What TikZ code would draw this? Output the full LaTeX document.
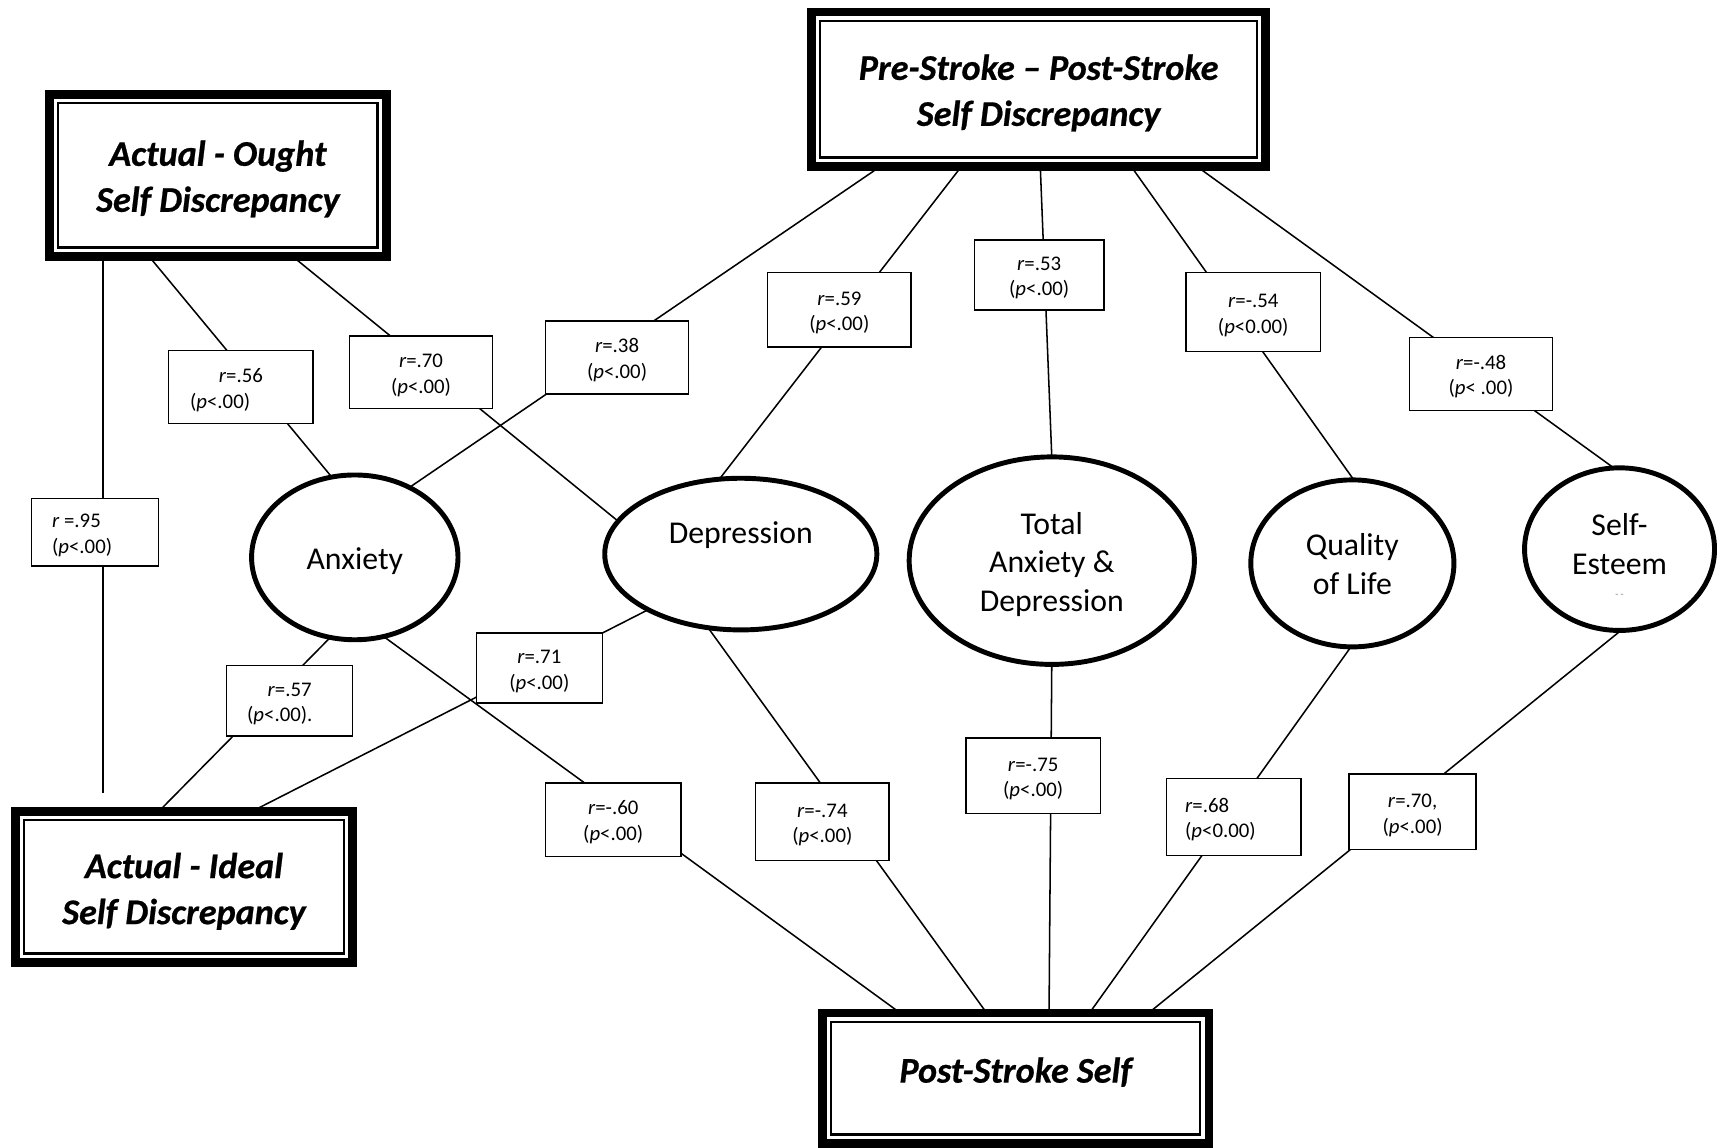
\documentclass[tikz,border=0pt]{standalone}
\usepackage{fontspec}
\setmainfont{Carlito}[BoldItalicFeatures={FakeBold=0.6}]
\usetikzlibrary{shapes.geometric,backgrounds}
\newcommand\ttlfont{\fontsize{33}{42}\selectfont\bfseries\itshape}
\newcommand\efont{\fontsize{29}{35.5}\selectfont}
\newcommand\lfont{\fontsize{19}{23.5}\selectfont}
\newcommand\up[1]{\rule{0pt}{#1}}
\tikzset{
 bigbox/.style={draw, line width=8pt, fill=white, inner sep=0pt, outer sep=0pt, align=center, font=\ttlfont},
 innerframe/.style={line width=2.2pt},
 ell/.style={ellipse, draw, line width=4.5pt, fill=white, inner sep=0pt, outer sep=0pt, align=center, font=\efont},
 lbox/.style={draw, line width=1.3pt, fill=white, inner sep=0pt, outer sep=0pt, align=center, font=\lfont},
 link/.style={line width=1.4pt},
}
\begin{document}
\begin{tikzpicture}[x=1pt,y=-1pt]
\useasboundingbox (0,0) rectangle (1568,1048);

% main boxes
\node[bigbox, minimum width=308pt, minimum height=148pt] (ao) at (199,160) {\up{30pt}Actual - Ought\\Self Discrepancy};
\node[bigbox, minimum width=415pt, minimum height=141pt] (pp) at (948.5,81.5) {\up{30pt}Pre-Stroke – Post-Stroke\\Self Discrepancy};
\node[bigbox, minimum width=308pt, minimum height=138pt] (ai) at (168,810) {\up{31pt}Actual - Ideal\\Self Discrepancy};
\node[bigbox, minimum width=353pt, minimum height=119pt,
      label={[font=\ttlfont, yshift=5.5pt]center:Post-Stroke Self}] (ps) at (927.5,984.5) {};
\foreach \n in {ao,pp,ai,ps}
  \draw[innerframe] ([shift={(8.1pt,-8.1pt)}]\n.north west) rectangle ([shift={(-8.1pt,8.1pt)}]\n.south east);

% ellipses
\node[ell, minimum width=188.5pt, minimum height=150.5pt] (anx) at (324,509) {\up{26pt}Anxiety};
\node[ell, minimum width=248.5pt, minimum height=138.5pt,
      label={[font=\efont, yshift=17pt]center:Depression}] (dep) at (676.5,506) {};
\node[ell, minimum width=260.5pt, minimum height=189.5pt] (tot) at (960.5,512) {\up{27pt}Total\\Anxiety \&\\Depression};
\node[ell, minimum width=185.5pt, minimum height=152.5pt] (qol) at (1235,514.5) {\up{22pt}Quality\\of Life};
\node[ell, minimum width=173.5pt, minimum height=148.5pt,
      label={[font=\efont, align=center, yshift=5pt]center:Self-\\Esteem},
      label={[font=\fontsize{9}{9}\selectfont, text=gray, yshift=-42.5pt]center:- -}] (se) at (1479,501.5) {};

% correlation boxes
\node[lbox, align=left, minimum width=116pt, minimum height=62pt] (l95) at (87,486) {\up{18pt}\textit{r} =.95\\(\textit{p}<.00)\hspace*{24pt}};
\node[lbox, minimum width=132pt, minimum height=67pt] (l56) at (220,353.5) {\up{18pt}\textit{r}=.56\\(\textit{p}<.00)\hspace*{38pt}};
\node[lbox, minimum width=131pt, minimum height=66pt] (l70a) at (384.5,340) {\up{18pt}\textit{r}=.70\\(\textit{p}<.00)};
\node[lbox, minimum width=131pt, minimum height=67pt] (l38) at (563.5,326.5) {\up{18pt}\textit{r}=.38\\(\textit{p}<.00)};
\node[lbox, minimum width=131pt, minimum height=68pt] (l59) at (766.5,283) {\up{18pt}\textit{r}=.59\\(\textit{p}<.00)};
\node[lbox, minimum width=118pt, minimum height=64pt] (l53) at (949,251) {\up{18pt}\textit{r}=.53\\(\textit{p}<.00)};
\node[lbox, minimum width=123pt, minimum height=72pt] (l54) at (1144.5,285) {\up{18pt}\textit{r}=-.54\\(\textit{p}<0.00)};
\node[lbox, minimum width=131pt, minimum height=67pt] (l48) at (1352.5,341.5) {\up{18pt}\textit{r}=-.48\\(\textit{p}< .00)};
\node[lbox, minimum width=115pt, minimum height=64pt] (l57) at (264.5,640) {\up{18pt}\textit{r}=.57\\(\textit{p}<.00).\hspace*{18pt}};
\node[lbox, minimum width=115pt, minimum height=64pt] (l71) at (492.5,610) {\up{18pt}\textit{r}=.71\\(\textit{p}<.00)};
\node[lbox, minimum width=124pt, minimum height=67pt] (l60) at (560,748.5) {\up{18pt}\textit{r}=-.60\\(\textit{p}<.00)};
\node[lbox, minimum width=122pt, minimum height=71pt] (l74) at (751,750.5) {\up{18pt}\textit{r}=-.74\\(\textit{p}<.00)};
\node[lbox, minimum width=123pt, minimum height=69pt] (l75) at (943.5,708.5) {\up{18pt}\textit{r}=-.75\\(\textit{p}<.00)};
\node[lbox, align=left, minimum width=123pt, minimum height=70pt] (l68) at (1126.5,746) {\up{18pt}\textit{r}=.68\\(\textit{p}<0.00)\hspace*{24pt}};
\node[lbox, minimum width=116pt, minimum height=69pt] (l70b) at (1290,741.5) {\up{18pt}\textit{r}=.70,\\(\textit{p}<.00)};

% connectors (behind the boxes)
\begin{pgfonlayer}{background}
\draw[link] ([xshift=-105pt]ao.south) -- ([xshift=-74pt,yshift=17pt]ai.north);
\draw[link] ([xshift=-63pt]ao.south) -- (anx.106);
\draw[link] ([xshift=68pt]ao.south) -- (dep.165);
\draw[link] ([xshift=-144.5pt]pp.south) -- (anx.52);
\draw[link] ([xshift=-70.5pt]pp.south) -- (dep.106);
\draw[link] ([xshift=1.5pt]pp.south) -- (tot.north);
\draw[link] ([xshift=84.5pt]pp.south) -- (qol.89);
\draw[link] ([xshift=144.5pt]pp.south) -- (se.94);
\draw[link] (anx.253) -- ([xshift=-23pt]ai.north);
\draw[link] (anx.290) -- ([xshift=-105.5pt]ps.north);
\draw[link] (dep.211) -- ([xshift=62pt]ai.north);
\draw[link] (dep.246) -- ([xshift=-26.5pt]ps.north);
\draw[link] (tot.south) -- ([xshift=30.5pt]ps.north);
\draw[link] (qol.269) -- ([xshift=67.5pt]ps.north);
\draw[link] (se.271) -- ([xshift=121.5pt]ps.north);
\end{pgfonlayer}
\end{tikzpicture}
\end{document}
